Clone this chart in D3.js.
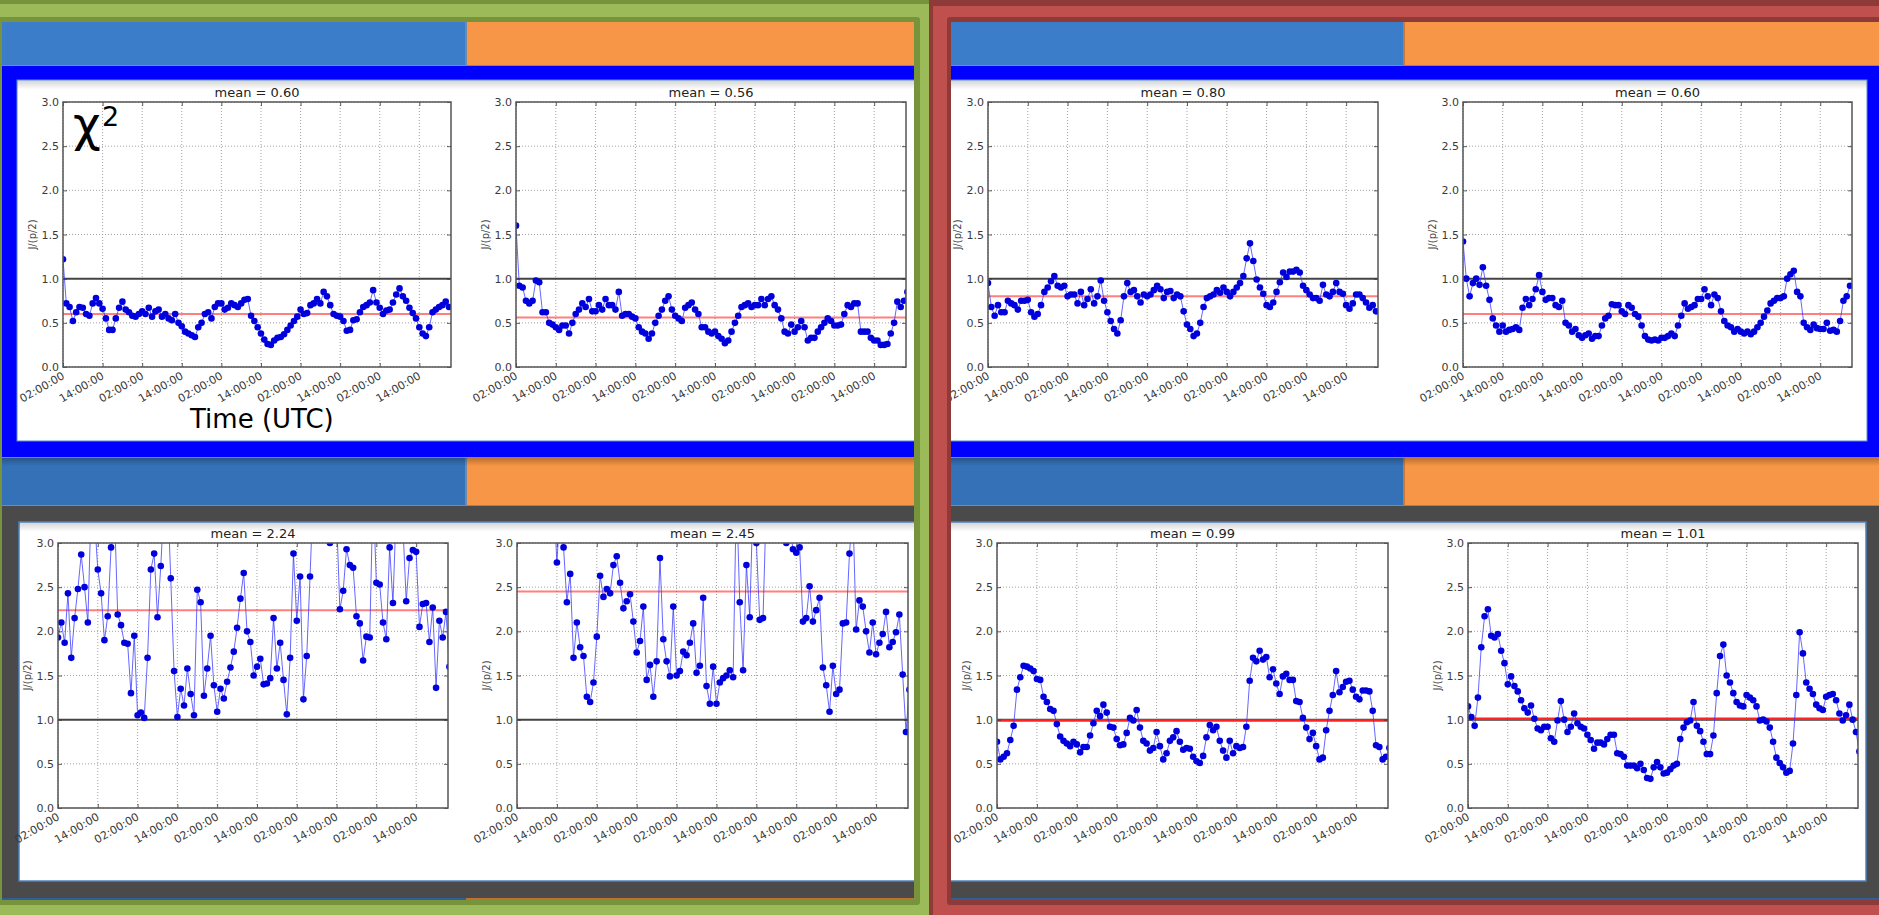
<!DOCTYPE html>
<html>
<head>
<meta charset="utf-8">
<script src="https://cdn.jsdelivr.net/npm/d3@7"></script>
<style>
  body { margin: 0; background: #fff; overflow: hidden; }
  svg { display: block; }
  text { font-family: "DejaVu Sans", sans-serif; }
</style>
</head>
<body>
<svg id="chart" width="1879" height="915"></svg>
<script>
// ---------- data ----------
// hourly J/(p/2) statistic, one value per hour starting at 02:00 UTC
const tickHours = [0, 12, 24, 36, 48, 60, 72, 84, 96, 108];
const yTicks = [0, 0.5, 1.0, 1.5, 2.0, 2.5, 3.0];
const spanHours = 117.6;
const referenceLevel = 1.0;

const means = [0.60, 0.56, 0.80, 0.60, 2.24, 2.45, 0.99, 1.01];

const seriesA = [1.22, 0.72, 0.68, 0.52, 0.62, 0.68, 0.67, 0.60, 0.58, 0.72, 0.78, 0.72, 0.66, 0.55,
  0.42, 0.42, 0.55,
  0.67, 0.74, 0.65, 0.62, 0.58, 0.57, 0.60, 0.63, 0.60, 0.67, 0.57, 0.63, 0.65, 0.57,
  0.60, 0.55, 0.53, 0.60, 0.50, 0.46, 0.40, 0.38, 0.36, 0.34, 0.45, 0.50, 0.60, 0.62, 0.55,
  0.68, 0.72, 0.72, 0.65, 0.67, 0.72, 0.70, 0.68, 0.72, 0.76, 0.77, 0.58,
  0.52, 0.45, 0.38, 0.31, 0.26, 0.25,
  0.30, 0.33, 0.34, 0.37, 0.42, 0.47, 0.52, 0.57, 0.65, 0.60, 0.61, 0.70, 0.72, 0.77, 0.72, 0.85,
  0.80, 0.70, 0.60, 0.58, 0.57, 0.52, 0.41, 0.42, 0.53, 0.54, 0.62, 0.68, 0.70, 0.73, 0.87,
  0.73, 0.67, 0.60, 0.64, 0.65, 0.73, 0.82, 0.89,
  0.80, 0.75, 0.67, 0.61, 0.55, 0.45, 0.38, 0.35, 0.45, 0.62, 0.65, 0.68, 0.70, 0.74, 0.68];

const seriesB = [1.60, 0.92, 0.90, 0.75, 0.72, 0.75, 0.98, 0.96, 0.62, 0.62,
  0.50, 0.48, 0.45, 0.42, 0.47, 0.47, 0.38, 0.50, 0.60, 0.65,
  0.72, 0.68, 0.77, 0.63, 0.63, 0.70, 0.65, 0.77, 0.70, 0.70,
  0.65, 0.85, 0.58, 0.60, 0.60, 0.57, 0.55, 0.45, 0.40, 0.38,
  0.32, 0.38, 0.50, 0.58, 0.65, 0.75, 0.80, 0.65, 0.58, 0.55,
  0.52, 0.67, 0.70, 0.73, 0.65, 0.60, 0.45, 0.45, 0.40, 0.38,
  0.40, 0.35, 0.32, 0.27, 0.30, 0.40, 0.50, 0.58, 0.68, 0.70,
  0.72, 0.68, 0.70, 0.70, 0.77, 0.70, 0.77, 0.80, 0.70, 0.65,
  0.55, 0.40, 0.38, 0.48, 0.40, 0.45, 0.52, 0.45, 0.30, 0.33,
  0.33, 0.40, 0.45, 0.50, 0.55, 0.52, 0.47, 0.47, 0.48, 0.60,
  0.70, 0.68, 0.72, 0.72, 0.40, 0.40, 0.40, 0.33,
  0.30, 0.30, 0.25, 0.25, 0.26, 0.38, 0.50, 0.74, 0.68, 0.75, 0.85];

const seriesC = [0.95, 0.68, 0.58, 0.70, 0.62, 0.62, 0.75, 0.72, 0.70, 0.65,
  0.75, 0.75, 0.76, 0.62, 0.57, 0.60, 0.70, 0.85, 0.90, 0.97,
  1.03, 0.92, 0.90, 0.92, 0.80, 0.82, 0.82, 0.72, 0.85, 0.70,
  0.77, 0.88, 0.72, 0.80, 0.98, 0.75, 0.62, 0.52, 0.43, 0.38,
  0.53, 0.80, 0.95, 0.85, 0.87, 0.80, 0.73, 0.82, 0.80, 0.82,
  0.87, 0.92, 0.88, 0.78, 0.85, 0.86, 0.78, 0.82, 0.80, 0.63,
  0.48, 0.43, 0.35, 0.38, 0.50, 0.68, 0.78, 0.80, 0.82, 0.87,
  0.84, 0.90, 0.85, 0.80, 0.85, 0.90, 0.95, 1.03, 1.23, 1.40,
  1.20, 0.99, 0.90, 0.83, 0.70, 0.68, 0.73, 0.85, 0.96, 1.07,
  1.02, 1.08, 1.08, 1.10, 1.07, 0.92, 0.87, 0.82, 0.78, 0.78,
  0.75, 0.93, 0.82, 0.80, 0.85, 0.95, 0.85, 0.83, 0.70, 0.66,
  0.72, 0.82, 0.82, 0.78, 0.73, 0.67, 0.70, 0.63];

const seriesD = [1.42, 1.00, 0.80, 0.95, 1.00, 0.93, 1.13, 0.92, 0.76, 0.55,
  0.47, 0.40, 0.47, 0.40, 0.42, 0.43, 0.45, 0.42,
  0.67, 0.77, 0.70, 0.77, 0.88, 1.04, 0.85, 0.76, 0.78, 0.78,
  0.70, 0.68, 0.75, 0.50, 0.47, 0.40, 0.43, 0.36, 0.33, 0.36,
  0.38, 0.32, 0.35, 0.35, 0.47, 0.55, 0.58, 0.71, 0.70, 0.70,
  0.63, 0.60, 0.70, 0.67, 0.60, 0.57, 0.47, 0.35, 0.31, 0.30,
  0.31, 0.30, 0.33, 0.33, 0.35, 0.38, 0.35, 0.47, 0.58, 0.72,
  0.66, 0.68, 0.70, 0.77, 0.77, 0.88, 0.80, 0.70, 0.82, 0.78,
  0.63, 0.52, 0.47, 0.45, 0.40, 0.43, 0.40, 0.38, 0.40, 0.37,
  0.40, 0.45, 0.50, 0.57, 0.64, 0.72, 0.75, 0.78, 0.78, 0.80,
  1.00, 1.05, 1.09, 0.85, 0.80, 0.50, 0.45, 0.42, 0.48, 0.44,
  0.43, 0.43, 0.50, 0.41, 0.42, 0.40, 0.52, 0.75, 0.80, 0.92];

const seriesE = [1.93, 2.10, 1.87, 2.43, 1.70, 2.15, 2.48, 2.87, 2.50, 2.10,
  3.45, 3.30, 2.70, 2.43, 1.90, 2.17, 2.95, 3.40, 2.19, 2.07,
  1.87, 1.86, 1.30, 1.95, 1.05, 1.08, 1.02, 1.70, 2.70, 2.88,
  2.16, 2.74, 3.50, 3.60, 2.60, 1.55, 1.03, 1.35, 1.16, 1.58,
  1.29, 1.05, 2.47, 2.33, 1.27, 1.58, 1.95, 1.39, 1.09, 1.35,
  1.24, 1.43, 1.59, 1.77, 2.04, 2.37, 2.66, 2.00, 1.88, 1.50,
  1.60, 1.69, 1.40, 1.41, 1.47, 2.15, 1.58, 1.87, 1.45, 1.06,
  1.70, 2.88, 2.12, 2.62, 1.23, 1.72, 2.62, 3.60, 3.80, 3.50,
  3.70, 3.40, 3.00, 3.50, 3.30, 2.25, 2.46, 2.93, 2.75, 2.72,
  2.17, 2.09, 1.67, 1.94, 1.93, 3.60, 2.55, 2.53, 2.10, 1.91,
  2.95, 2.32, 3.40, 3.50, 3.20, 2.34, 2.83, 2.92, 2.90, 2.05,
  2.31, 2.32, 1.88, 2.27, 1.36, 2.12, 1.93, 2.22, 1.60];

const seriesF = [3.60, 3.40, 3.70, 3.50, 3.80, 3.60, 3.50, 3.90, 3.60, 3.40,
  3.70, 3.50, 2.78, 3.40, 2.95, 2.33, 2.65, 1.70, 2.10, 1.82,
  1.72, 1.26, 1.20, 1.42, 1.94, 2.63, 2.39, 2.48, 2.43, 2.75,
  2.85, 2.55, 2.26, 2.34, 2.42, 2.11, 1.76, 1.89, 2.28, 1.45,
  1.62, 1.26, 1.66, 2.83, 1.91, 1.66, 1.49, 2.28, 1.50, 1.55,
  1.77, 1.73, 1.87, 2.09, 1.53, 1.61, 2.38, 1.38, 1.18, 1.60,
  1.18, 1.42, 1.47, 1.50, 1.56, 1.48, 3.60, 2.33, 1.56, 2.75,
  2.16, 3.50, 3.00, 2.13, 2.15, 3.50, 3.70, 3.60, 3.80, 3.50,
  3.40, 3.00, 3.20, 2.93, 2.89, 2.95, 2.11, 2.15, 2.51, 2.11,
  2.24, 2.38, 1.59, 1.39, 1.09, 1.61, 1.29, 1.34, 2.09, 2.10,
  2.88, 3.40, 2.02, 2.35, 2.28, 2.00, 1.76, 2.10, 1.74, 1.87,
  1.97, 2.22, 1.82, 1.88, 1.99, 2.19, 1.51, 0.86, 1.34];

const seriesG = [0.75, 0.55, 0.58, 0.62, 0.77, 0.93, 1.34, 1.48, 1.61,
  1.60, 1.58, 1.55, 1.46, 1.45, 1.26, 1.20, 1.12, 1.10,
  0.95, 0.81, 0.76, 0.73, 0.70, 0.75, 0.72, 0.63, 0.69, 0.69,
  0.82, 0.96, 1.10, 1.04, 1.17, 1.08, 0.92, 0.91, 0.78, 0.71,
  0.72, 0.85, 1.02, 0.99, 1.11, 0.91, 0.76, 0.73, 0.65, 0.68,
  0.86, 0.70, 0.55, 0.62, 0.76, 0.80, 0.87, 0.75, 0.66,
  0.68, 0.67, 0.58, 0.53, 0.51, 0.59, 0.80, 0.94, 0.88, 0.92,
  0.76, 0.65, 0.57, 0.76, 0.62, 0.70, 0.68, 0.69, 0.92,
  1.44, 1.70, 1.66, 1.78, 1.68, 1.71, 1.48, 1.57, 1.41, 1.29,
  1.49, 1.52, 1.45, 1.45, 1.21, 1.20, 1.02, 0.91, 0.78, 0.85,
  0.70, 0.55, 0.57, 0.88, 1.10, 1.28, 1.55, 1.31, 1.37, 1.43,
  1.44, 1.34, 1.26, 1.23, 1.33, 1.33, 1.32, 1.10, 0.71, 0.69,
  0.55, 0.58, 0.68];

const seriesH = [1.15, 1.03, 0.93, 1.25, 1.82, 2.17, 2.25, 1.95, 1.93,
  1.97, 1.78, 1.64, 1.40, 1.49, 1.38, 1.32, 1.22, 1.13,
  1.08, 1.16, 1.01, 0.90, 0.88, 0.92, 0.92, 0.79, 0.75, 0.99,
  1.21, 1.00, 0.86, 0.92, 1.07, 0.96, 0.92, 0.90, 0.83, 0.77,
  0.67, 0.74, 0.74, 0.72, 0.78, 0.83, 0.83, 0.62, 0.61, 0.58,
  0.48, 0.48, 0.48, 0.45, 0.50, 0.43, 0.34, 0.33, 0.46, 0.52,
  0.46, 0.39, 0.40, 0.44, 0.48, 0.50, 0.78, 0.91, 0.97, 0.99,
  1.20, 0.93, 0.87, 0.75, 0.61, 0.61, 0.82, 1.30, 1.72, 1.85,
  1.50, 1.42, 1.30, 1.20, 1.16, 1.15, 1.28, 1.25, 1.22, 1.15,
  0.99, 1.00, 0.98, 0.91, 0.75, 0.57, 0.51, 0.46, 0.40, 0.42,
  0.73, 1.28, 1.99, 1.75, 1.42, 1.35, 1.29, 1.17, 1.13, 1.11,
  1.26, 1.28, 1.29, 1.22, 1.07, 0.99, 1.05, 1.17, 1.00, 0.86,
  0.64];

const allSeries = [seriesA, seriesB, seriesC, seriesD, seriesE, seriesF, seriesG, seriesH];

// ---------- layout ----------
const W = 1879, H = 915;
const axesBoxes = [
  { x0: 63,   x1: 451,  y0: 102, y1: 367, half: 0, meanStyle: "soft" },
  { x0: 516,  x1: 906,  y0: 102, y1: 367, half: 0, meanStyle: "soft" },
  { x0: 988,  x1: 1378, y0: 102, y1: 367, half: 1, meanStyle: "soft" },
  { x0: 1463, x1: 1852, y0: 102, y1: 367, half: 1, meanStyle: "soft" },
  { x0: 58,   x1: 448,  y0: 543, y1: 808, half: 0, meanStyle: "soft" },
  { x0: 517,  x1: 908,  y0: 543, y1: 808, half: 0, meanStyle: "soft" },
  { x0: 997,  x1: 1388, y0: 543, y1: 808, half: 1, meanStyle: "strong" },
  { x0: 1468, x1: 1858, y0: 543, y1: 808, half: 1, meanStyle: "strong" }
];

const halves = [
  { x0: 2,   x1: 914,  split: 466,  whiteTop: [17, 930],  whiteBot: [19, 930] },
  { x0: 951, x1: 1879, split: 1404, whiteTop: [935, 1867], whiteBot: [935, 1866] }
];

const svg = d3.select("#chart");
const defs = svg.append("defs");

// gradient for soft panel shadows
const shade = defs.append("linearGradient").attr("id", "shadeDown")
  .attr("x1", 0).attr("y1", 0).attr("x2", 0).attr("y2", 1);
shade.append("stop").attr("offset", 0).attr("stop-color", "#000").attr("stop-opacity", 0.28);
shade.append("stop").attr("offset", 1).attr("stop-color", "#000").attr("stop-opacity", 0);

// ---------- frames ----------
// left (green) frame
svg.append("rect").attr("x", 0).attr("y", 0).attr("width", 929).attr("height", H).attr("fill", "#9BBB59");
svg.append("rect").attr("x", 0).attr("y", 0).attr("width", 929).attr("height", 4).attr("fill", "#77933C");
svg.append("rect").attr("x", -10).attr("y", 17).attr("width", 930).attr("height", 888).attr("rx", 3).attr("fill", "#77933C");
// right (red) frame
svg.append("rect").attr("x", 929).attr("y", 0).attr("width", W - 929).attr("height", H).attr("fill", "#8E3A38");
svg.append("rect").attr("x", 933).attr("y", 6).attr("width", W).attr("height", H).attr("fill", "#C0504D");
svg.append("rect").attr("x", 947).attr("y", 17).attr("width", W).attr("height", 888).attr("rx", 3).attr("fill", "#8E3A38");

halves.forEach((h, i) => {
  defs.append("clipPath").attr("id", "half" + i)
    .append("rect").attr("x", h.x0).attr("y", 22).attr("width", h.x1 - h.x0).attr("height", 878);
});

const halfGroups = halves.map((h, i) => {
  const g = svg.append("g").attr("clip-path", `url(#half${i})`);
  const w = h.x1 - h.x0;
  // top header bars
  g.append("rect").attr("x", h.x0).attr("y", 22).attr("width", h.split - h.x0).attr("height", 43).attr("fill", "#3B7DC9");
  g.append("rect").attr("x", h.split).attr("y", 22).attr("width", h.x1 - h.split).attr("height", 43).attr("fill", "#F79646");
  g.append("rect").attr("x", h.split - 1).attr("y", 22).attr("width", 2).attr("height", 43).attr("fill", i ? "#C8773A" : "#6B8AB0");
  // blue frame with white panel
  g.append("rect").attr("x", h.x0).attr("y", 65).attr("width", w).attr("height", 392).attr("fill", "#0000FF");
  g.append("line").attr("x1", h.x0).attr("x2", h.x1).attr("y1", 65.5).attr("y2", 65.5).attr("stroke", "#5A8FD6").attr("stroke-width", 1);
  g.append("rect").attr("x", h.whiteTop[0]).attr("y", 80).attr("width", h.whiteTop[1] - h.whiteTop[0]).attr("height", 361)
    .attr("fill", "#fff").attr("stroke", "#5B8BC9").attr("stroke-width", 1);
  g.append("rect").attr("x", h.whiteTop[0]).attr("y", 80.5).attr("width", h.whiteTop[1] - h.whiteTop[0]).attr("height", 9)
    .attr("fill", "url(#shadeDown)").attr("opacity", 0.6);
  // lower header bars
  g.append("rect").attr("x", h.x0).attr("y", 457).attr("width", h.split - h.x0).attr("height", 48).attr("fill", "#3571B6");
  g.append("rect").attr("x", h.split).attr("y", 457).attr("width", h.x1 - h.split).attr("height", 48).attr("fill", "#F79646");
  g.append("rect").attr("x", h.split - 1).attr("y", 457).attr("width", 2).attr("height", 48).attr("fill", i ? "#C8773A" : "#6B8AB0");
  g.append("rect").attr("x", h.x0).attr("y", 457).attr("width", w).attr("height", 9).attr("fill", "url(#shadeDown)");
  g.append("line").attr("x1", h.x0).attr("x2", h.x1).attr("y1", 457.5).attr("y2", 457.5).attr("stroke", "#5A8FD6").attr("stroke-width", 1);
  // dark grey frame with white panel
  g.append("rect").attr("x", h.x0).attr("y", 505).attr("width", w).attr("height", 393).attr("fill", "#4A4A4A");
  g.append("line").attr("x1", h.x0).attr("x2", h.x1).attr("y1", 505.5).attr("y2", 505.5).attr("stroke", "#5A8FD6").attr("stroke-width", 1);
  g.append("rect").attr("x", h.whiteBot[0]).attr("y", 522).attr("width", h.whiteBot[1] - h.whiteBot[0]).attr("height", 359)
    .attr("fill", "#fff").attr("stroke", "#4F81BD").attr("stroke-width", 1.5);
  g.append("rect").attr("x", h.whiteBot[0]).attr("y", 522.7).attr("width", h.whiteBot[1] - h.whiteBot[0]).attr("height", 9)
    .attr("fill", "url(#shadeDown)").attr("opacity", 0.6);
  // peeking edge of the next row of bars
  g.append("rect").attr("x", h.x0).attr("y", 898).attr("width", h.split - h.x0).attr("height", 2).attr("fill", "#2F5F98");
  g.append("rect").attr("x", h.split).attr("y", 898).attr("width", h.x1 - h.split).attr("height", 2).attr("fill", i ? "#2F5F98" : "#C0712F");
  return g;
});

// ---------- plots ----------
const start = Date.UTC(2014, 0, 1, 2, 0, 0);
const hourMs = 3600 * 1000;
const fmtTime = d3.utcFormat("%H:%M:%S");
const fmtY = d3.format(".1f");
const fmtMean = d3.format(".2f");

axesBoxes.forEach((b, k) => {
  const g = halfGroups[b.half].append("g");
  const x = d3.scaleUtc()
    .domain([new Date(start), new Date(start + spanHours * hourMs)])
    .range([b.x0, b.x1]);
  const y = d3.scaleLinear().domain([0, 3]).range([b.y1, b.y0]);
  const tickDates = tickHours.map(hh => new Date(start + hh * hourMs));

  const clipId = "ax" + k;
  defs.append("clipPath").attr("id", clipId)
    .append("rect").attr("x", b.x0).attr("y", b.y0).attr("width", b.x1 - b.x0).attr("height", b.y1 - b.y0);

  // dotted grid
  const grid = g.append("g").attr("stroke", "#8a8a8a").attr("stroke-width", 0.8).attr("stroke-dasharray", "1,2");
  grid.selectAll("line.gx").data(tickDates).join("line")
    .attr("x1", d => x(d)).attr("x2", d => x(d)).attr("y1", b.y0).attr("y2", b.y1);
  grid.selectAll("line.gy").data(yTicks).join("line")
    .attr("x1", b.x0).attr("x2", b.x1).attr("y1", d => y(d)).attr("y2", d => y(d));

  const plot = g.append("g").attr("clip-path", `url(#${clipId})`);
  // reference level and mean
  plot.append("line").attr("x1", b.x0).attr("x2", b.x1)
    .attr("y1", y(referenceLevel)).attr("y2", y(referenceLevel))
    .attr("stroke", "#444").attr("stroke-width", 2);
  plot.append("line").attr("x1", b.x0).attr("x2", b.x1)
    .attr("y1", y(means[k])).attr("y2", y(means[k]))
    .attr("stroke", b.meanStyle === "strong" ? "#FF2222" : "rgba(255,0,0,0.5)")
    .attr("stroke-width", b.meanStyle === "strong" ? 2.5 : 2);

  const pts = allSeries[k].map((v, i) => ({ t: new Date(start + i * hourMs), v }));
  plot.append("path").datum(pts)
    .attr("fill", "none").attr("stroke", "#3333FF").attr("stroke-opacity", 0.75).attr("stroke-width", 1)
    .attr("d", d3.line().x(d => x(d.t)).y(d => y(d.v)));
  plot.selectAll("circle").data(pts).join("circle")
    .attr("cx", d => x(d.t)).attr("cy", d => y(d.v)).attr("r", 3.3)
    .attr("fill", "#0000DD");

  // axes
  const xAxis = g.append("g").attr("transform", `translate(0,${b.y1})`)
    .call(d3.axisBottom(x).tickValues(tickDates).tickFormat(fmtTime).tickSize(-4).tickPadding(0));
  xAxis.selectAll(".tick text")
    .attr("text-anchor", "end").attr("x", -4).attr("y", 10.5).attr("dy", 0)
    .attr("transform", "rotate(-30)")
    .attr("font-size", 11).attr("fill", "#3a3a3a").attr("font-family", "DejaVu Sans");
  const xTop = g.append("g").attr("transform", `translate(0,${b.y0})`)
    .call(d3.axisTop(x).tickValues(tickDates).tickFormat("").tickSize(-4));
  const yAxis = g.append("g").attr("transform", `translate(${b.x0},0)`)
    .call(d3.axisLeft(y).tickValues(yTicks).tickFormat(fmtY).tickSize(-4).tickPadding(4));
  yAxis.selectAll(".tick text").attr("font-size", 11).attr("fill", "#3a3a3a").attr("font-family", "DejaVu Sans");
  const yRight = g.append("g").attr("transform", `translate(${b.x1},0)`)
    .call(d3.axisRight(y).tickValues(yTicks).tickFormat("").tickSize(-4));
  [xAxis, xTop, yAxis, yRight].forEach(a => {
    a.select(".domain").remove();
    a.selectAll(".tick line").attr("stroke", "#333").attr("stroke-width", 0.8);
  });
  g.append("rect").attr("x", b.x0).attr("y", b.y0).attr("width", b.x1 - b.x0).attr("height", b.y1 - b.y0)
    .attr("fill", "none").attr("stroke", "#555").attr("stroke-width", 1.5);

  // title and y label
  g.append("text").attr("x", (b.x0 + b.x1) / 2).attr("y", b.y0 - 5)
    .attr("text-anchor", "middle").attr("font-size", 13).attr("fill", "#222")
    .text("mean = " + fmtMean(means[k]));
  g.append("text").attr("transform", `translate(${b.x0 - 27},${(b.y0 + b.y1) / 2}) rotate(-90)`)
    .attr("text-anchor", "middle").attr("font-size", 10).attr("fill", "#444")
    .text("J/(p/2)");
});

// annotations on the first panel
const note = halfGroups[0].append("g").attr("font-family", "Lato, 'Open Sans', sans-serif").attr("fill", "#000");
note.append("text").attr("x", 73).attr("y", 141).attr("font-size", 48).attr("font-family", "'Open Sans', 'DejaVu Sans', sans-serif").text("χ");
note.append("text").attr("x", 102).attr("y", 126).attr("font-size", 27).attr("font-family", "'Open Sans', 'DejaVu Sans', sans-serif").text("2");
note.append("text").attr("x", 190).attr("y", 428).attr("font-size", 26).text("Time (UTC)");
</script>
</body>
</html>
